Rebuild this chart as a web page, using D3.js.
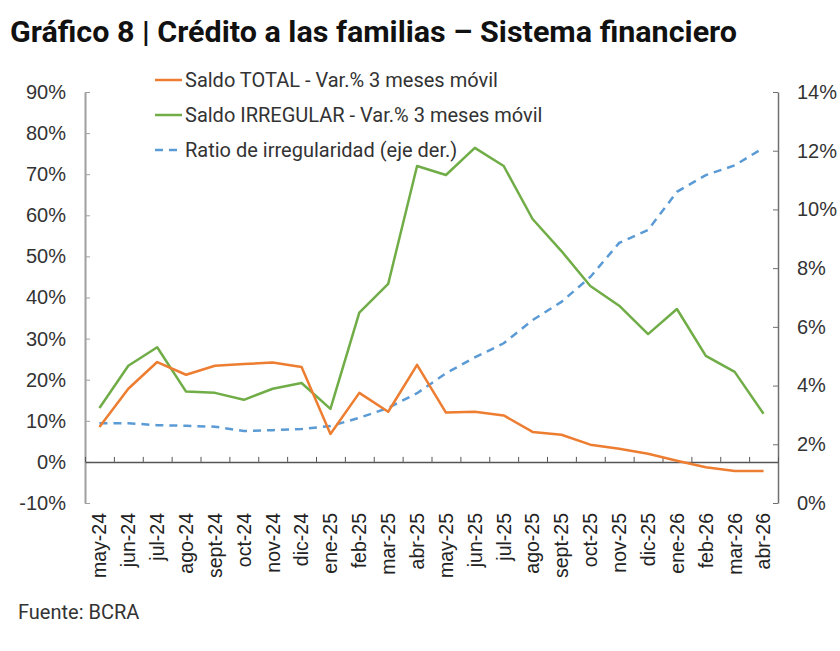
<!DOCTYPE html>
<html>
<head>
<meta charset="utf-8">
<script src="https://cdn.jsdelivr.net/npm/d3@7"></script>
<style>
  body { margin: 0; background: #fff; }
  svg { display: block; font-family: Roboto, 'Liberation Sans', sans-serif; }
  .tick text { fill: #333; }
</style>
</head>
<body>
<svg id="chart" width="840" height="651"></svg>
<script>
// months (x categories)
const months = ['may-24', 'jun-24', 'jul-24', 'ago-24', 'sept-24', 'oct-24', 'nov-24', 'dic-24',
  'ene-25', 'feb-25', 'mar-25', 'abr-25', 'may-25', 'jun-25', 'jul-25', 'ago-25', 'sept-25',
  'oct-25', 'nov-25', 'dic-25', 'ene-26', 'feb-26', 'mar-26', 'abr-26']

// Saldo TOTAL - Var.% 3 meses movil (left axis, %)
const saldoTotal = [8.5, 17.8, 24.3, 21.2, 23.4, 23.8, 24.2, 23.1, 6.8, 16.8, 12.2, 23.6,
  12.0, 12.2, 11.3, 7.3, 6.6, 4.2, 3.2, 2.0, 0.3, -1.3, -2.2, -2.2]

// Saldo IRREGULAR - Var.% 3 meses movil (left axis, %)
const saldoIrregular = [13.1, 23.4, 27.9, 17.1, 16.8, 15.1, 17.8, 19.2, 12.9, 36.3, 43.3, 72.0,
  69.8, 76.4, 72.0, 59.1, 51.3, 42.8, 38.0, 31.1, 37.2, 25.8, 21.9, 11.7]

// Ratio de irregularidad (right axis, %)
const ratioIrreg = [2.72, 2.72, 2.65, 2.63, 2.6, 2.45, 2.48, 2.52, 2.62, 2.9, 3.24, 3.74,
  4.42, 4.96, 5.44, 6.23, 6.85, 7.7, 8.86, 9.3, 10.6, 11.17, 11.5, 12.1]

const leftTicks = [-10, 0, 10, 20, 30, 40, 50, 60, 70, 80, 90]
const rightTicks = [0, 2, 4, 6, 8, 10, 12, 14]

const svg = d3.select('#chart')

const plotLeft = 85
const plotRight = 778
const plotTop = 92
const plotBottom = 503

const x = d3.scaleBand().domain(months).range([plotLeft, plotRight])
const xEdges = d3.scaleLinear().domain([0, months.length]).range([plotLeft, plotRight])
const yLeft = d3.scaleLinear().domain([-10, 90]).range([plotBottom, plotTop])
const yRight = d3.scaleLinear().domain([0, 14]).range([plotBottom, plotTop])

// title
svg.append('text')
  .attr('x', 10)
  .attr('y', 42)
  .attr('font-size', 29)
  .attr('font-weight', 'bold')
  .attr('fill', '#111')
  .attr('textLength', 727)
  .attr('lengthAdjust', 'spacingAndGlyphs')
  .text('Gráfico 8 | Crédito a las familias – Sistema financiero')

// left axis
const axL = svg.append('g')
  .attr('transform', `translate(${plotLeft},0)`)
  .call(d3.axisLeft(yLeft).tickValues(leftTicks).tickSizeInner(-5).tickSizeOuter(0)
    .tickPadding(19).tickFormat(d => d + '%'))
axL.selectAll('text').attr('font-size', 20)
axL.select('.domain').attr('stroke', '#a0a0a0').attr('stroke-width', 2)
axL.selectAll('.tick line').attr('stroke', '#a0a0a0')

// right axis
const axR = svg.append('g')
  .attr('transform', `translate(${plotRight},0)`)
  .call(d3.axisRight(yRight).tickValues(rightTicks).tickSizeInner(-5).tickSizeOuter(0)
    .tickPadding(19).tickFormat(d => d + '%'))
axR.selectAll('text').attr('font-size', 20)
axR.select('.domain').attr('stroke', '#707070').attr('stroke-width', 1.5)
axR.selectAll('.tick line').attr('stroke', '#707070')

// x axis at 0%
const axX = svg.append('g')
  .attr('transform', `translate(0,${yLeft(0)})`)
  .call(d3.axisBottom(xEdges).tickValues(d3.range(0, months.length + 1))
    .tickSizeInner(-5).tickSizeOuter(0).tickFormat(''))
axX.select('.domain').attr('stroke', '#555').attr('stroke-width', 1.5)
axX.selectAll('.tick line').attr('stroke', '#555')

// month labels
svg.append('g')
  .selectAll('text')
  .data(months)
  .enter()
  .append('text')
  .attr('transform', d => `translate(${x(d) + x.bandwidth() / 2},513) rotate(-90)`)
  .attr('dy', '0.35em')
  .attr('text-anchor', 'end')
  .attr('font-family', "'Liberation Sans', Arial, sans-serif")
  .attr('font-size', 19.5)
  .attr('fill', '#222')
  .text(d => d)

const cx = (d, i) => x(months[i]) + x.bandwidth() / 2

const lineL = d3.line().x(cx).y(d => yLeft(d))
const lineR = d3.line().x(cx).y(d => yRight(d))

svg.append('path')
  .datum(ratioIrreg)
  .attr('d', lineR)
  .attr('fill', 'none')
  .attr('stroke', '#5b9bd5')
  .attr('stroke-width', 2.5)
  .attr('stroke-dasharray', '8,6')

svg.append('path')
  .datum(saldoIrregular)
  .attr('d', lineL)
  .attr('fill', 'none')
  .attr('stroke', '#70ad47')
  .attr('stroke-width', 2.5)
  .attr('stroke-linejoin', 'round')

svg.append('path')
  .datum(saldoTotal)
  .attr('d', lineL)
  .attr('fill', 'none')
  .attr('stroke', '#ed7d31')
  .attr('stroke-width', 2.5)
  .attr('stroke-linejoin', 'round')

// legend
const legend = [
  { label: 'Saldo TOTAL - Var.% 3 meses móvil', color: '#ed7d31', dash: null },
  { label: 'Saldo IRREGULAR - Var.% 3 meses móvil', color: '#70ad47', dash: null },
  { label: 'Ratio de irregularidad (eje der.)', color: '#5b9bd5', dash: '8,6' },
]

const lg = svg.append('g')
  .selectAll('g')
  .data(legend)
  .enter()
  .append('g')
  .attr('transform', (d, i) => `translate(155,${80 + i * 35})`)

lg.append('line')
  .attr('x1', 0)
  .attr('x2', 27)
  .attr('stroke', d => d.color)
  .attr('stroke-width', 2.5)
  .attr('stroke-dasharray', d => d.dash)

lg.append('text')
  .attr('x', 30)
  .attr('dy', '0.35em')
  .attr('font-size', 20)
  .attr('fill', '#333')
  .text(d => d.label)

// source
svg.append('text')
  .attr('x', 18)
  .attr('y', 619)
  .attr('font-size', 20)
  .attr('fill', '#333')
  .text('Fuente: BCRA')
</script>
</body>
</html>
